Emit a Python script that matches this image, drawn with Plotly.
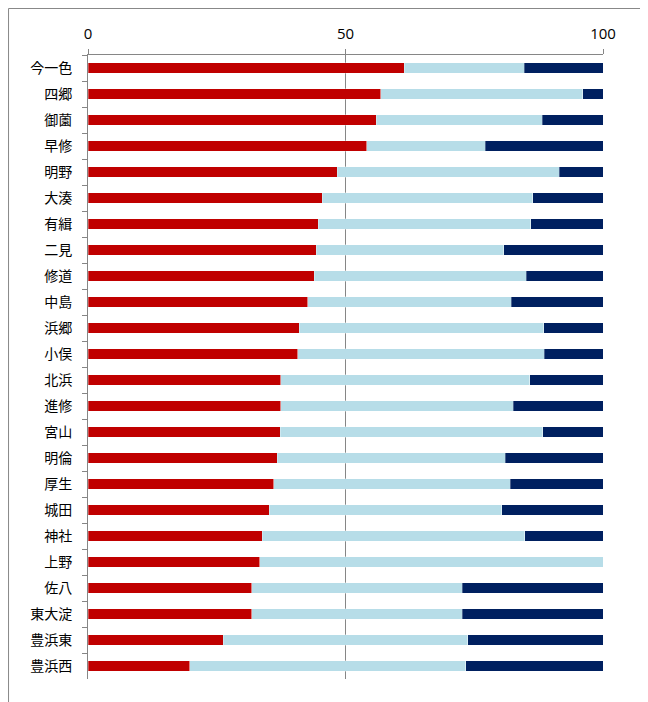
import plotly.graph_objects as go

categories = ["今一色", "四郷", "御薗", "早修", "明野", "大湊", "有緝", "二見", "修道", "中島",
              "浜郷", "小俣", "北浜", "進修", "宮山", "明倫", "厚生", "城田", "神社", "上野",
              "佐八", "東大淀", "豊浜東", "豊浜西"]
red_vals = [61.4, 56.8, 56.0, 54.1, 48.4, 45.5, 44.7, 44.3, 43.9, 42.7,
            41.0, 40.7, 37.4, 37.4, 37.3, 36.7, 36.1, 35.2, 33.8, 33.3,
            31.8, 31.8, 26.3, 19.8]
light_vals = [23.3, 39.3, 32.2, 23.0, 43.1, 40.9, 41.3, 36.4, 41.2, 39.5,
              47.5, 47.9, 48.4, 45.2, 51.0, 44.3, 45.9, 45.1, 51.0, 66.7,
              40.9, 40.9, 47.4, 53.5]
navy_vals = [15.3, 3.9, 11.8, 22.9, 8.5, 13.6, 14.0, 19.3, 14.9, 17.8,
             11.5, 11.4, 14.2, 17.4, 11.7, 19.0, 18.0, 19.7, 15.2, 0.0,
             27.3, 27.3, 26.3, 26.7]
x_ticks = [0, 50, 100]

fig = go.Figure()
for vals, color in [(red_vals, "#C00000"), (light_vals, "#B7DDE8"), (navy_vals, "#002060")]:
    fig.add_trace(go.Bar(
        y=categories, x=vals, orientation="h",
        marker=dict(color=color, line=dict(color="rgba(255,255,255,0.6)", width=0.5)),
        showlegend=False, hoverinfo="x+y",
    ))

fig.update_layout(
    barmode="stack",
    bargap=0.59,
    width=640, height=694,
    margin=dict(l=80, r=45, t=47, b=23),
    paper_bgcolor="white", plot_bgcolor="white",
    font=dict(family="Noto Sans CJK JP", size=13, color="#000000"),
    xaxis=dict(
        side="top", range=[0, 100], tickvals=x_ticks, ticktext=[str(v) for v in x_ticks],
        showline=True, linecolor="#868686", linewidth=1,
        showgrid=True, gridcolor="#868686", gridwidth=1,
        ticks="outside", ticklen=5, tickcolor="#868686",
        zeroline=False, tickfont=dict(size=15, family="Open Sans"),
        ticklabelstandoff=4,
        fixedrange=True,
    ),
    yaxis=dict(
        autorange="reversed", showline=True, linecolor="#868686", linewidth=1,
        ticks="outside", ticklen=5, tickcolor="#868686", tickson="boundaries",
        ticklabelstandoff=12, showgrid=False, tickfont=dict(size=14),
        fixedrange=True,
    ),
    shapes=[dict(type="rect", xref="paper", yref="paper",
                 x0=-0.1543, x1=1.0757, y0=-0.06, y1=1.0745,
                 line=dict(color="#888888", width=1), layer="below")],
)

fig.write_html("out.html")
